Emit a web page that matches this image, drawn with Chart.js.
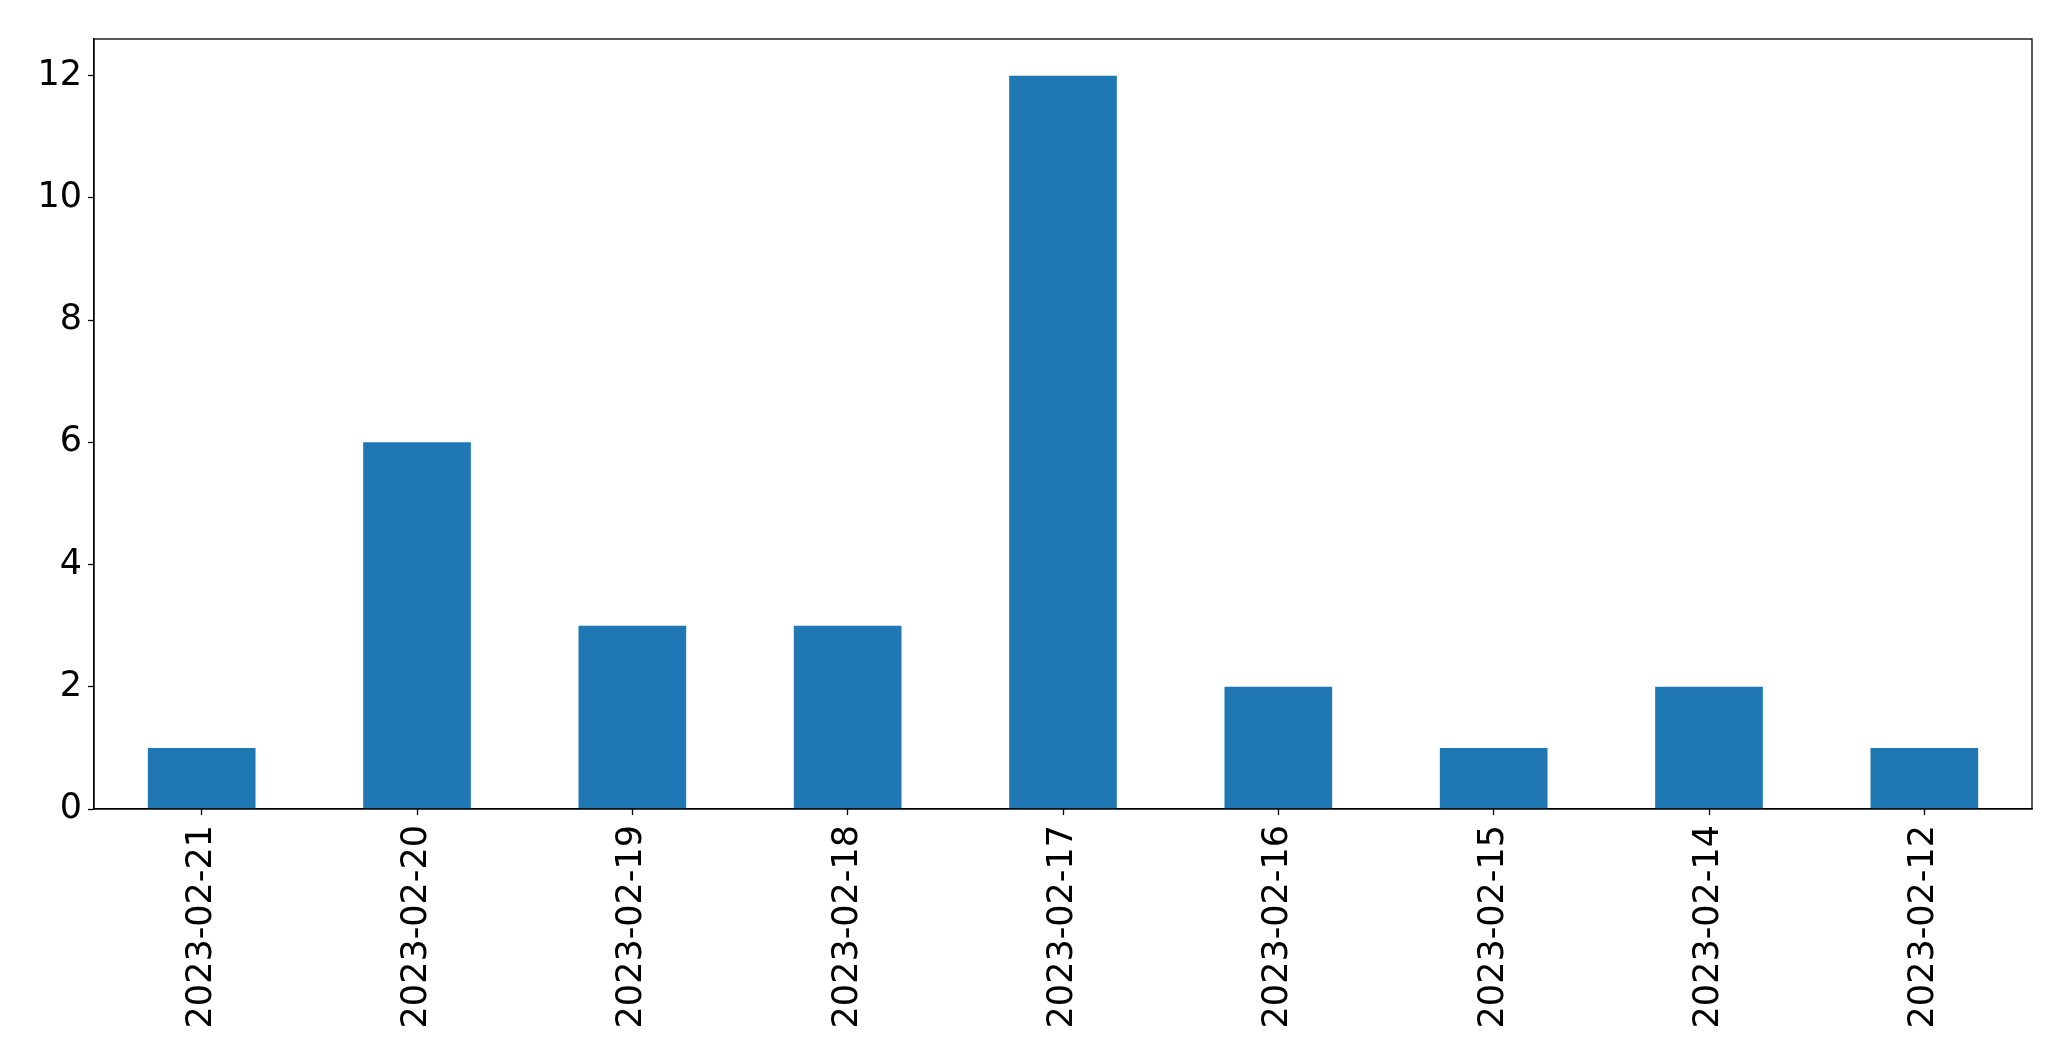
<!DOCTYPE html>
<html>
<head>
<meta charset="utf-8">
<script src="https://cdn.jsdelivr.net/npm/chart.js@4/dist/chart.umd.min.js"></script>
<style>
  html, body { margin: 0; padding: 0; background: #fff; }
  #wrap { width: 2071px; height: 1061px; }
</style>
</head>
<body>
<div id="wrap"><canvas id="myChart"></canvas></div>
<script>
const labels = [
  '2023-02-21',
  '2023-02-20',
  '2023-02-19',
  '2023-02-18',
  '2023-02-17',
  '2023-02-16',
  '2023-02-15',
  '2023-02-14',
  '2023-02-12',
];
const counts = [1, 6, 3, 3, 12, 2, 1, 2, 1];
const yTicks = [0, 2, 4, 6, 8, 10, 12];

// draws the top and right spines so the axes form a box
const frame = {
  id: 'frame',
  afterDraw(chart) {
    const { ctx, chartArea: a } = chart;
    ctx.save();
    ctx.strokeStyle = '#000';
    ctx.lineWidth = 1.3;
    ctx.strokeRect(a.left, a.top, a.right - a.left, a.bottom - a.top);
    ctx.restore();
  }
};

const data = {
  labels: labels,
  datasets: [{
    data: counts,
    backgroundColor: '#1f77b4',
    borderWidth: 0,
    barPercentage: 0.5,
    categoryPercentage: 1.0,
  }]
};

const config = {
  type: 'bar',
  data: data,
  plugins: [frame],
  options: {
    responsive: true,
    maintainAspectRatio: false,
    animation: false,
    layout: { padding: { top: 39, right: 39, left: 0, bottom: 0 } },
    plugins: { legend: { display: false }, tooltip: { enabled: false } },
    scales: {
      x: {
        afterFit(scale) { scale.height = 252; },
        grid: { offset: false, drawOnChartArea: false, drawTicks: true, tickLength: 6, tickColor: '#000', tickWidth: 1.3 },
        border: { display: true, color: '#000', width: 1.3 },
        ticks: {
          color: '#000',
          font: { family: 'DejaVu Sans', size: 35 },
          maxRotation: 90,
          minRotation: 90,
          padding: 10,
          autoSkip: false,
        }
      },
      y: {
        min: 0,
        max: 12.6,
        afterFit(scale) { scale.width = 94; },
        afterBuildTicks(scale) { scale.ticks = yTicks.map(v => ({ value: v })); },
        grid: { drawOnChartArea: false, drawTicks: true, tickLength: 6, tickColor: '#000', tickWidth: 1.3 },
        border: { display: true, color: '#000', width: 1.3 },
        ticks: {
          color: '#000',
          font: { family: 'DejaVu Sans', size: 35 },
          padding: 6,
        }
      }
    }
  }
};

const myChart = new Chart(
  document.getElementById('myChart'),
  config
);
</script>
</body>
</html>
